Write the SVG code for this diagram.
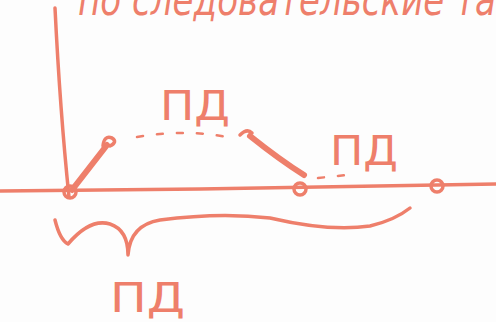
<svg xmlns="http://www.w3.org/2000/svg" width="496" height="322" viewBox="0 0 496 322">
<style>
.ink{fill:none;stroke:#ee7f6b;stroke-linecap:round;stroke-linejoin:round}
.thin{stroke-width:3.5}
.thick{stroke-width:6}
.dot{stroke-width:2.5;stroke-dasharray:6 14}
.lbl{font-family:"DejaVu Sans",sans-serif;fill:#ee7f6b;font-size:40px}
.title{font-family:"DejaVu Sans",sans-serif;font-style:italic;fill:#ee7f6b;font-size:44px}
</style>
<rect width="496" height="322" fill="#fdfdfd"/>
<text class="title" x="78" y="15" textLength="418" lengthAdjust="spacingAndGlyphs">по следовательские та</text>
<g id="axes">
<path class="ink thin" d="M55,8 Q60,110 69,197"/>
<path class="ink thin" d="M0,191 L200,189 L496,184"/>
</g>
<g id="p0"><circle class="ink thin" cx="70" cy="192" r="6"/></g>
<g id="p1"><circle class="ink thin" cx="300" cy="189" r="6"/></g>
<g id="p2"><circle class="ink thin" cx="437" cy="186" r="6" fill="#ee7f6b"/></g>
<g id="connectors">
<path class="ink thick" d="M72,190 L107,145"/>
<path class="ink thin" d="M103,146 Q104,135 112,138 Q118,142 110,146"/>
<path class="ink dot" d="M137,137 Q190,128 236,139"/>
<path class="ink thin" d="M240,135 Q247,128 252,133"/>
<path class="ink thick" d="M250,136 Q280,160 304,175"/>
<path class="ink dot" d="M318,178 L356,174"/>
<path class="ink thin" d="M55,220 Q60,240 68,244 Q90,218 110,224 Q128,230 128,255 Q130,225 160,220 Q220,212 270,218 Q330,232 370,226 Q395,220 410,208"/>
</g>
<g id="label1"><text class="lbl" x="160" y="120" textLength="70" lengthAdjust="spacingAndGlyphs">ПД</text></g>
<g id="label2"><text class="lbl" x="330" y="165" textLength="68" lengthAdjust="spacingAndGlyphs">ПД</text></g>
<g id="label3"><text class="lbl" x="110" y="312" textLength="75" lengthAdjust="spacingAndGlyphs">ПД</text></g>
</svg>
